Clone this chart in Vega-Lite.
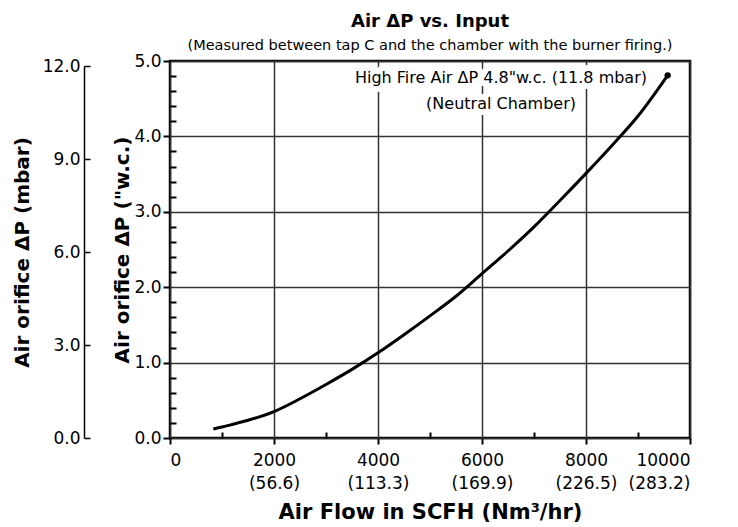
{
  "$schema": "https://vega.github.io/schema/vega-lite/v6.json",
  "width": 520,
  "height": 377,
  "padding": {"left": 12, "top": 12, "right": 5, "bottom": 3},
  "config": {
    "font": "DejaVu Sans",
    "view": {"stroke": "black", "strokeWidth": 2.5},
    "axis": {"labelColor": "black", "titleColor": "black", "tickColor": "black", "domainColor": "black", "labelFont": "DejaVu Sans", "titleFont": "DejaVu Sans"}
  },
  "title": {
    "text": "Air ΔP vs. Input",
    "subtitle": "(Measured between tap C and the chamber with the burner firing.)",
    "font": "DejaVu Sans",
    "subtitleFont": "DejaVu Sans",
    "fontSize": 18,
    "fontWeight": "bold",
    "subtitleFontSize": 14.5,
    "subtitlePadding": 8,
    "offset": 0,
    "anchor": "middle",
    "color": "black",
    "subtitleColor": "black"
  },
  "datasets": {
    "curve": [
      {"scfh": 833, "wc": 0.12},
      {"scfh": 1000, "wc": 0.145},
      {"scfh": 1250, "wc": 0.19},
      {"scfh": 1500, "wc": 0.235},
      {"scfh": 2000, "wc": 0.35},
      {"scfh": 2500, "wc": 0.52},
      {"scfh": 3000, "wc": 0.71},
      {"scfh": 3500, "wc": 0.91},
      {"scfh": 4000, "wc": 1.13},
      {"scfh": 4500, "wc": 1.37},
      {"scfh": 5000, "wc": 1.62},
      {"scfh": 5500, "wc": 1.88},
      {"scfh": 6000, "wc": 2.18},
      {"scfh": 6500, "wc": 2.48},
      {"scfh": 7000, "wc": 2.8},
      {"scfh": 7500, "wc": 3.15},
      {"scfh": 8000, "wc": 3.51},
      {"scfh": 8500, "wc": 3.88},
      {"scfh": 9000, "wc": 4.27},
      {"scfh": 9571, "wc": 4.81}
    ],
    "tip": [{"scfh": 9571, "wc": 4.81, "mbar": 11.8}],
    "notes": [
      {"scfh": 9173, "wc": 4.77, "text": "High Fire Air ΔP 4.8\"w.c. (11.8 mbar)"},
      {"scfh": 7808, "wc": 4.43, "text": "(Neutral Chamber)"}
    ]
  },
  "layer": [
    {
      "data": {"name": "curve"},
      "mark": {"type": "line", "interpolate": "monotone", "color": "black", "strokeWidth": 3},
      "encoding": {
        "x": {
          "field": "scfh", "type": "quantitative",
          "scale": {"domain": [0, 10000], "nice": false},
          "axis": {
            "values": [0, 2000, 4000, 6000, 8000, 10000],
            "grid": true, "gridColor": "#333", "gridWidth": 1.5,
            "domain": false, "tickSize": 6, "tickWidth": 2,
            "labelFontSize": 17, "labelLineHeight": 23, "labelPadding": 8,
            "labelExpr": "datum.value == 0 ? '0' : [format(datum.value, 'd'), '(' + format(datum.value * 0.0283168, '.1f') + ')']",
            "title": "Air Flow in SCFH (Nm³/hr)", "titleFontSize": 21, "titleFontWeight": "bold", "titlePadding": 10
          }
        },
        "y": {
          "field": "wc", "type": "quantitative",
          "scale": {"domain": [0, 5], "nice": false},
          "axis": {
            "orient": "left",
            "values": [0, 1, 2, 3, 4, 5], "format": ".1f",
            "grid": true, "gridColor": "#333", "gridWidth": 1.5,
            "domain": false, "tickSize": 7, "tickWidth": 2,
            "labelFontSize": 17, "labelPadding": 2,
            "title": "Air orifice ΔP (\"w.c.)", "titleFontSize": 20, "titleFontWeight": "bold", "titlePadding": 1
          }
        }
      }
    },
    {
      "data": {"name": "tip"},
      "mark": {"type": "point", "opacity": 0},
      "encoding": {
        "x": {
          "field": "scfh", "type": "quantitative",
          "scale": {"domain": [0, 10000], "nice": false},
          "axis": {"orient": "top", "offset": -377, "values": [1000, 3000, 5000, 7000, 9000], "tickSize": 6, "tickWidth": 2, "labels": false, "domain": false, "grid": false, "title": null}
        },
        "y": {
          "field": "wc", "type": "quantitative",
          "scale": {"domain": [0, 5], "nice": false},
          "axis": {
            "orient": "right", "offset": -520,
            "values": [0.2, 0.4, 0.6, 0.8, 1.2, 1.4, 1.6, 1.8, 2.2, 2.4, 2.6, 2.8, 3.2, 3.4, 3.6, 3.8, 4.2, 4.4, 4.6, 4.8],
            "tickSize": 6, "tickWidth": 2, "labels": false, "domain": false, "grid": false, "title": null
          }
        }
      }
    },
    {
      "data": {"name": "notes"},
      "mark": {"type": "text", "fontSize": 16, "fill": "white", "stroke": "white", "strokeWidth": 12, "strokeJoin": "round", "baseline": "middle", "align": "right"},
      "encoding": {
        "x": {"field": "scfh", "type": "quantitative", "scale": {"domain": [0, 10000], "nice": false}, "axis": null},
        "y": {"field": "wc", "type": "quantitative", "scale": {"domain": [0, 5], "nice": false}, "axis": null},
        "text": {"field": "text"}
      }
    },
    {
      "data": {"name": "notes"},
      "mark": {"type": "text", "fontSize": 16, "color": "black", "baseline": "middle", "align": "right"},
      "encoding": {
        "x": {"field": "scfh", "type": "quantitative", "scale": {"domain": [0, 10000], "nice": false}, "axis": null},
        "y": {"field": "wc", "type": "quantitative", "scale": {"domain": [0, 5], "nice": false}, "axis": null},
        "text": {"field": "text"}
      }
    },
    {
      "data": {"name": "tip"},
      "mark": {"type": "point", "filled": true, "color": "black", "size": 40, "opacity": 1},
      "encoding": {
        "x": {"field": "scfh", "type": "quantitative", "scale": {"domain": [0, 10000], "nice": false}, "axis": null},
        "y": {"field": "wc", "type": "quantitative", "scale": {"domain": [0, 5], "nice": false}, "axis": null}
      }
    },
    {
      "data": {"name": "tip"},
      "mark": {"type": "point", "opacity": 0},
      "encoding": {
        "y": {
          "field": "mbar", "type": "quantitative",
          "scale": {"domain": [0, 12], "range": [377, 5], "nice": false},
          "axis": {
            "orient": "left", "offset": 86,
            "values": [0, 3, 6, 9, 12], "format": ".1f",
            "domain": true, "domainWidth": 1.5, "ticks": false,
            "labelFontSize": 17, "labelPadding": 4,
            "title": "Air orifice ΔP (mbar)", "titleFontSize": 20, "titleFontWeight": "bold", "titlePadding": 10
          }
        }
      }
    },
    {
      "data": {"name": "tip"},
      "mark": {"type": "point", "opacity": 0},
      "encoding": {
        "y": {
          "field": "mbar", "type": "quantitative",
          "scale": {"domain": [0, 12], "range": [377, 5], "nice": false},
          "axis": {
            "orient": "right", "offset": -606,
            "values": [0, 3, 6, 9, 12],
            "domain": false, "tickSize": 6, "tickWidth": 1.5, "labels": false, "grid": false, "title": null
          }
        }
      }
    }
  ],
  "resolve": {"scale": {"y": "independent"}, "axis": {"x": "independent", "y": "independent"}}
}
